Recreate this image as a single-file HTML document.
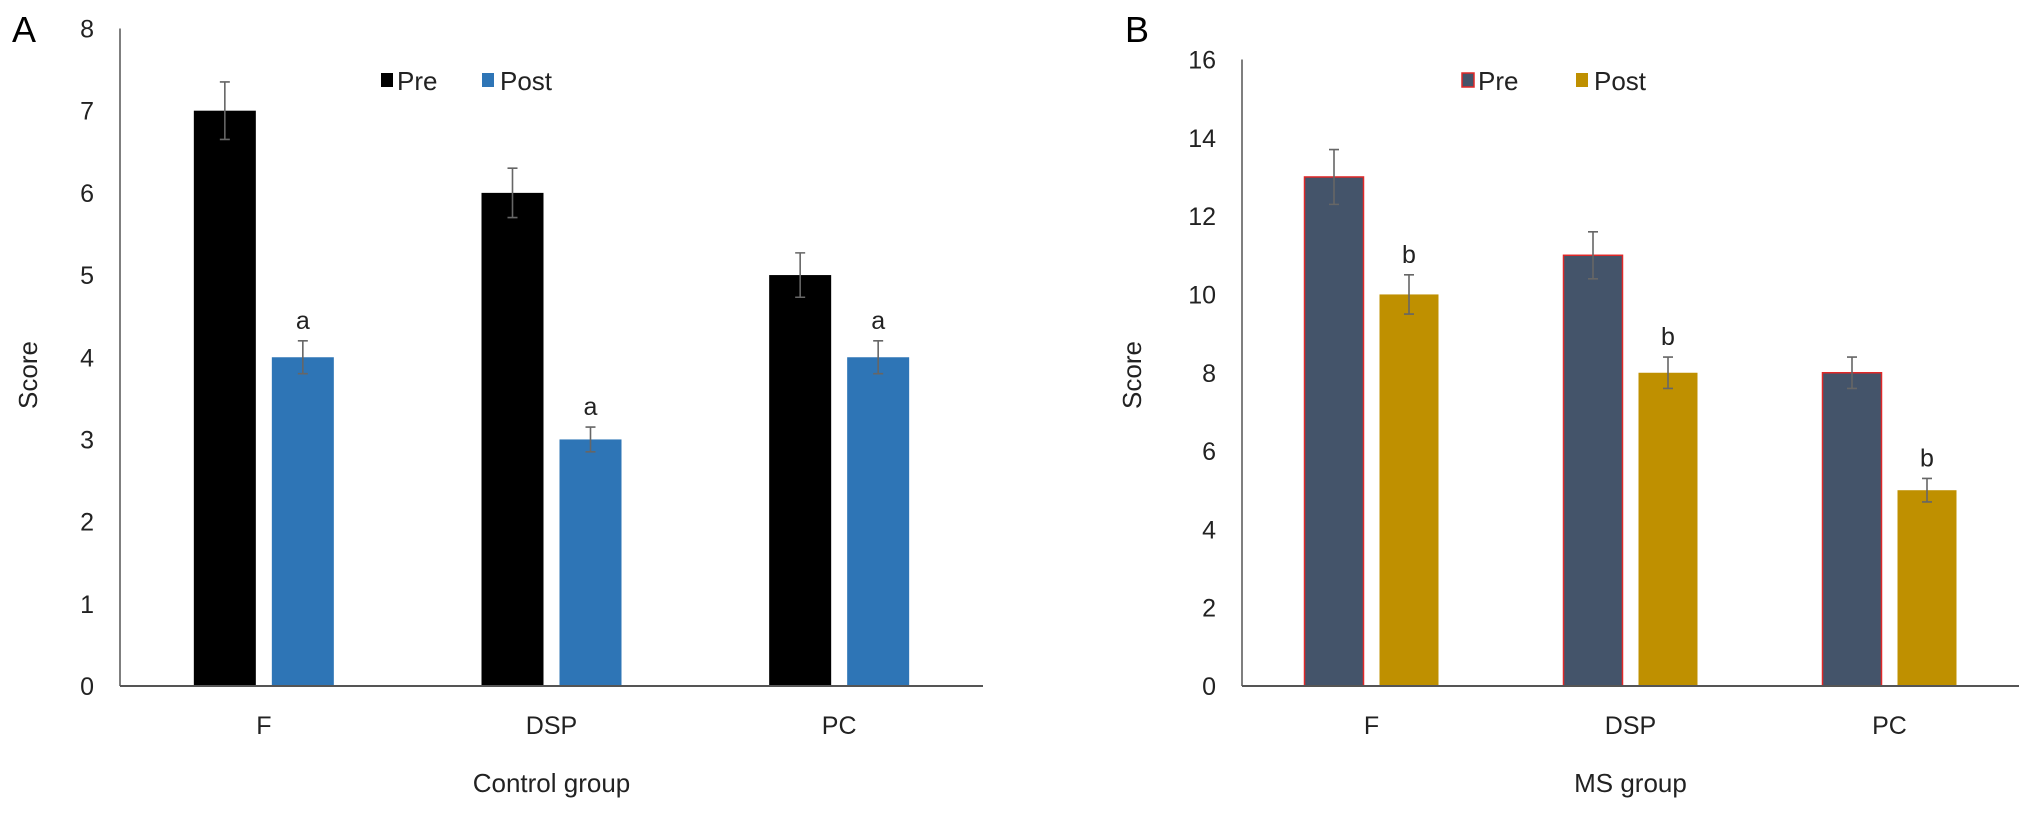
<!DOCTYPE html>
<html><head><meta charset="utf-8"><style>
html,body{margin:0;padding:0;background:#fff;}
svg{display:block;font-family:"Liberation Sans",Arial,sans-serif;}
</style></head><body>
<svg id="chart" width="2032" height="813" viewBox="0 0 2032 813" xmlns="http://www.w3.org/2000/svg"></svg>
<script>
const categories = ["F", "DSP", "PC"];
const preA = [7, 6, 5];
const postA = [4, 3, 4];
const preAErr = [0.35, 0.3, 0.27];
const postAErr = [0.2, 0.15, 0.2];
const sigA = ["a", "a", "a"];
const ticksA = [0, 1, 2, 3, 4, 5, 6, 7, 8];
const preB = [13, 11, 8];
const postB = [10, 8, 5];
const preBErr = [0.7, 0.6, 0.4];
const postBErr = [0.5, 0.4, 0.3];
const sigB = ["b", "b", "b"];
const ticksB = [0, 2, 4, 6, 8, 10, 12, 14, 16];

const NS = "http://www.w3.org/2000/svg";
const svg = document.getElementById("chart");
function mk(tag, attrs, parent, text) {
  const e = document.createElementNS(NS, tag);
  for (const k in attrs) e.setAttribute(k, attrs[k]);
  if (text !== undefined) e.textContent = text;
  (parent || svg).appendChild(e);
  return e;
}

function panel(cfg) {
  const g = mk("g", {});
  
  
  const y = v => cfg.y0 - (v - 0) / cfg.ymax * (cfg.y0 - cfg.ytop);
  const band = (cfg.xEnd - cfg.x0) / categories.length;
  const cx = i => cfg.x0 + band * (i + 0.5);

  const letter = mk("text", {x: cfg.letterX, y: 42, "font-size": 36, fill: "#000"}, g, cfg.letter);
  
  

  const yAxis = mk("line", {x1: cfg.x0, y1: cfg.ytop, x2: cfg.x0, y2: cfg.y0, stroke: "#555", "stroke-width": 1.5}, g);
  
  

  cfg.ticks.forEach(t => {
    const tl = mk("text", {x: cfg.x0 - 26, y: y(t) + 9, "font-size": 25, "text-anchor": "end", fill: "#222"}, g, String(t));
    
    
  });

  const yt = mk("text", {x: cfg.yTitleX, y: 375, "font-size": 26, "text-anchor": "middle", fill: "#222", transform: `rotate(-90 ${cfg.yTitleX} 375)`}, g, "Score");
  
  

  categories.forEach((c, i) => {
    const c0 = cx(i);
    const bars = [
      {v: cfg.pre[i], e: cfg.preErr[i], x: c0 - cfg.gap / 2 - cfg.bw, fill: cfg.preFill, stroke: cfg.preStroke, name: "bar-pre-" + c.toLowerCase()},
      {v: cfg.post[i], e: cfg.postErr[i], x: c0 + cfg.gap / 2, fill: cfg.postFill, stroke: "none", name: "bar-post-" + c.toLowerCase()}
    ];
    bars.forEach((b, j) => {
      const r = mk("rect", {x: b.x, y: y(b.v), width: cfg.bw, height: cfg.y0 - y(b.v), fill: b.fill, stroke: b.stroke, "stroke-width": 1.5}, g);
      
      
      const mx = b.x + cfg.bw / 2;
      const eb = mk("path", {d: `M${mx} ${y(b.v + b.e)}V${y(b.v - b.e)}M${mx - 5} ${y(b.v + b.e)}H${mx + 5}M${mx - 5} ${y(b.v - b.e)}H${mx + 5}`, stroke: "#666", "stroke-width": 1.6, fill: "none"}, g);
      
      
      if (j === 1) {
        const s = mk("text", {x: mx, y: y(b.v + b.e) - 12, "font-size": 25, "text-anchor": "middle", fill: "#222"}, g, cfg.sig[i]);
        
        
      }
    });
    const xl = mk("text", {x: c0, y: 734, "font-size": 25, "text-anchor": "middle", fill: "#222"}, g, c);
    
    
  });

  const xAxis = mk("line", {x1: cfg.x0, y1: cfg.y0, x2: cfg.xEnd, y2: cfg.y0, stroke: "#555", "stroke-width": 2}, g);
  
  

  const xt = mk("text", {x: (cfg.x0 + cfg.xEnd) / 2, y: 792, "font-size": 26, "text-anchor": "middle", fill: "#222"}, g, cfg.xTitle);
  
  

  const lg = mk("g", {}, g);
  
  
  const l1 = mk("rect", {x: cfg.legX, y: 73, width: 12, height: 14, fill: cfg.preFill, stroke: cfg.preStroke, "stroke-width": 1.5}, lg);
  
  
  const t1 = mk("text", {x: cfg.legX + 16, y: 90, "font-size": 26, fill: "#222"}, lg, "Pre");
  
  
  const l2 = mk("rect", {x: cfg.legX2, y: 73, width: 12, height: 14, fill: cfg.postFill}, lg);
  
  
  const t2 = mk("text", {x: cfg.legX2 + 18, y: 90, "font-size": 26, fill: "#222"}, lg, "Post");
  
  
}

panel({name: "panel-a-control", letter: "A", letterX: 12, x0: 120, xEnd: 983, y0: 686, ytop: 28.5, ymax: 8,
  ticks: ticksA, pre: preA, post: postA, preErr: preAErr, postErr: postAErr, sig: sigA,
  bw: 62, gap: 16, preFill: "#000", preStroke: "none", postFill: "#2e75b6",
  yTitleX: 37, xTitle: "Control group", legX: 381, legX2: 482});
panel({name: "panel-b-ms", letter: "B", letterX: 1125, x0: 1242, xEnd: 2019, y0: 686, ytop: 59.5, ymax: 16,
  ticks: ticksB, pre: preB, post: postB, preErr: preBErr, postErr: postBErr, sig: sigB,
  bw: 59, gap: 16, preFill: "#44546a", preStroke: "#e02828", postFill: "#bf9000",
  yTitleX: 1141, xTitle: "MS group", legX: 1462, legX2: 1576});
</script>
</body></html>
